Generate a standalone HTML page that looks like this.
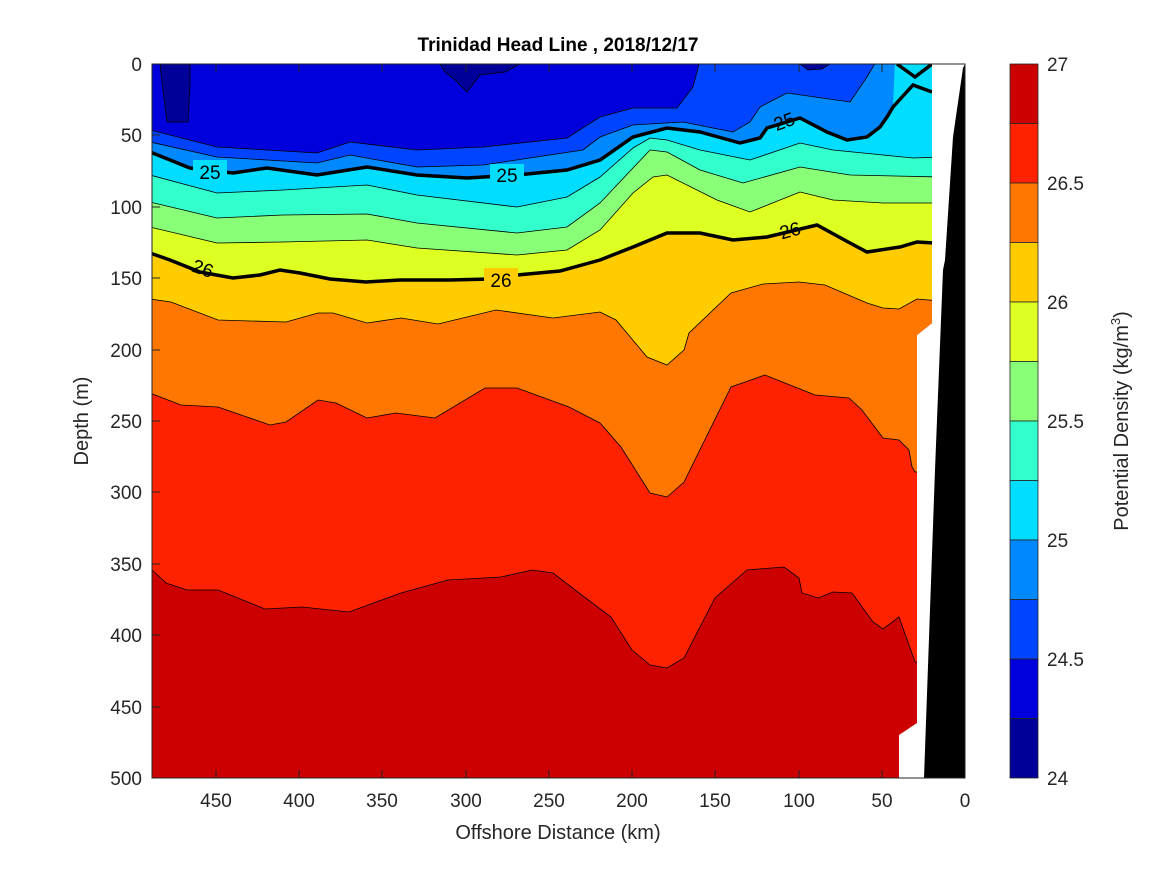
<!DOCTYPE html>
<html><head><meta charset="utf-8"><style>
body{margin:0;background:#fff;}
svg text{font-family:"Liberation Sans","DejaVu Sans",sans-serif;fill:#262626;}
</style></head><body>
<svg width="1167" height="875" viewBox="0 0 1167 875" xmlns="http://www.w3.org/2000/svg">
<defs><clipPath id="dc"><polygon points="152,64 932,64 932,323 917,335 917,723 899,735 899,778 152,778"/></clipPath></defs>
<rect width="1167" height="875" fill="#fff"/>
<g clip-path="url(#dc)" stroke="#000" stroke-width="0.8">
<rect x="152" y="64" width="780" height="714" fill="#cc0000" stroke="none"/>
<polygon fill="#ff2200" points="150,568 166,583 187,590 218,590 265,609 302,607 349,612 401,593 448,580 501,577 532,570 553,573 579,593 611,617 632,650 650,665 667,668 684,658 715,598 747,570 784,567 799,578 802,593 818,598 833,592 852,593 873,622 883,629 899,617 915,662 940,662 940,60 150,60"/>
<polygon fill="#ff7700" points="150,393 181,405 218,407 270,425 286,422 318,400 336,403 367,418 396,413 435,418 485,388 517,388 569,407 600,423 621,447 650,493 667,497 684,482 731,387 765,375 815,395 849,398 862,410 883,438 899,440 909,450 912,467 915,472 940,472 940,60 150,60"/>
<polygon fill="#ffcc00" points="150,299 171,302 218,320 286,322 318,313 333,313 367,323 401,318 438,324 496,310 553,318 600,312 616,320 647,357 667,365 684,350 689,333 731,293 763,284 799,282 825,285 867,303 883,308 899,309 917,299 940,301 940,60 150,60"/>
<polygon fill="#ddff22" points="150,253 170,260 200,272 233,278 260,275 280,270 300,273 330,279 366,282 400,280 450,280 490,279 517,275 560,271 600,260 633,247 667,233 700,233 733,240 767,237 817,225 850,243 867,252 900,247 917,242 940,243 940,60 150,60"/>
<polygon fill="#88ff77" points="150,227 217,243 283,242 367,240 417,248 517,255 567,250 600,230 633,193 653,177 667,175 717,200 750,212 800,192 833,200 883,203 940,203 940,60 150,60"/>
<polygon fill="#33ffcc" points="150,202 217,218 283,215 367,214 417,223 517,233 567,227 600,203 650,150 667,152 700,170 743,183 800,167 850,175 940,177 940,60 150,60"/>
<polygon fill="#00ddff" points="150,175 217,193 283,190 367,185 417,195 517,207 567,197 600,177 633,148 650,138 667,140 700,150 750,160 800,143 833,150 883,155 913,158 940,157 940,60 150,60"/>
<polygon fill="#0088ff" stroke="none" points="150,152 190,168 233,173 267,168 317,175 367,167 417,175 467,178 517,175 567,170 600,160 633,137 667,128 700,132 740,143 760,138 767,128 800,118 827,132 847,140 867,137 880,127 887,117 893,107 895,60 150,60"/>
<polygon fill="#0044ff" points="150,142 217,157 317,163 350,155 417,167 483,165 583,150 600,137 633,125 683,122 733,132 750,122 760,107 787,93 850,102 867,77 877,60 150,60"/>
<polygon fill="#0000dd" points="150,130 217,147 317,153 350,142 417,150 483,147 567,138 600,117 633,108 677,108 693,87 700,60 150,60"/>
<polygon fill="#000099" points="160,64 190,64 190,85 188,122 167,122 163,90"/>
<polygon fill="#000099" points="440,64 520,64 505,72 480,75 467,92 455,80 445,72"/>
<polygon fill="#000099" points="800,64 830,64 822,69 808,70"/>
<polyline fill="none" stroke="#000" stroke-width="3.5" points="150,152 190,168 233,173 267,168 317,175 367,167 417,175 467,178 517,175 567,170 600,160 633,137 667,128 700,132 740,143 760,138 767,128 800,118 827,132 847,140 867,137 880,127 887,117 893,107 913,85 932,92"/>
<polyline fill="none" stroke="#000" stroke-width="3.5" points="897,64 915,77 932,64"/>
<polyline fill="none" stroke="#000" stroke-width="3.5" points="150,253 170,260 200,272 233,278 260,275 280,270 300,273 330,279 366,282 400,280 450,280 490,279 517,275 560,271 600,260 633,247 667,233 700,233 733,240 767,237 817,225 850,243 867,252 900,247 917,242 935,243"/>
</g>
<g font-size="19" fill="#000">
<rect x="193" y="160" width="34" height="22" fill="#00ddff"/>
<text x="210" y="179" text-anchor="middle" style="fill:#000">25</text>
<rect x="490" y="164" width="34" height="22" fill="#00ddff"/>
<text x="507" y="182" text-anchor="middle" style="fill:#000">25</text>
<text x="784" y="128" text-anchor="middle" transform="rotate(-20 784 121)" style="fill:#000">25</text>
<text x="203" y="275" text-anchor="middle" transform="rotate(20 203 268)" style="fill:#000">26</text>
<rect x="484" y="268" width="34" height="22" fill="#ffcc00"/>
<text x="501" y="287" text-anchor="middle" style="fill:#000">26</text>
<text x="790" y="237" text-anchor="middle" transform="rotate(-15 790 230)" style="fill:#000">26</text>
</g>
<polygon fill="#000" points="965,64 963,68 953,137 945,260 943,270 935,470 924,778 965,778"/>
<rect x="152" y="64" width="813" height="714" fill="none" stroke="#262626" stroke-width="1"/>
<g stroke="#262626" stroke-width="1">
<line x1="216" y1="778" x2="216" y2="770"/><line x1="299" y1="778" x2="299" y2="770"/><line x1="382" y1="778" x2="382" y2="770"/><line x1="466" y1="778" x2="466" y2="770"/><line x1="549" y1="778" x2="549" y2="770"/><line x1="632" y1="778" x2="632" y2="770"/><line x1="715" y1="778" x2="715" y2="770"/><line x1="799" y1="778" x2="799" y2="770"/><line x1="882" y1="778" x2="882" y2="770"/>
<line x1="216" y1="64" x2="216" y2="72"/><line x1="299" y1="64" x2="299" y2="72"/><line x1="382" y1="64" x2="382" y2="72"/><line x1="466" y1="64" x2="466" y2="72"/><line x1="549" y1="64" x2="549" y2="72"/><line x1="632" y1="64" x2="632" y2="72"/><line x1="715" y1="64" x2="715" y2="72"/><line x1="799" y1="64" x2="799" y2="72"/><line x1="882" y1="64" x2="882" y2="72"/>
<line x1="152" y1="135" x2="160" y2="135"/><line x1="152" y1="207" x2="160" y2="207"/><line x1="152" y1="278" x2="160" y2="278"/><line x1="152" y1="350" x2="160" y2="350"/><line x1="152" y1="421" x2="160" y2="421"/><line x1="152" y1="492" x2="160" y2="492"/><line x1="152" y1="564" x2="160" y2="564"/><line x1="152" y1="635" x2="160" y2="635"/><line x1="152" y1="707" x2="160" y2="707"/>
</g>
<g font-size="19" text-anchor="end">
<text x="142" y="71">0</text><text x="142" y="142">50</text><text x="142" y="214">100</text><text x="142" y="285">150</text><text x="142" y="357">200</text><text x="142" y="428">250</text><text x="142" y="499">300</text><text x="142" y="571">350</text><text x="142" y="642">400</text><text x="142" y="714">450</text><text x="142" y="785">500</text>
</g>
<g font-size="19" text-anchor="middle">
<text x="216" y="807">450</text><text x="299" y="807">400</text><text x="382" y="807">350</text><text x="466" y="807">300</text><text x="549" y="807">250</text><text x="632" y="807">200</text><text x="715" y="807">150</text><text x="799" y="807">100</text><text x="882" y="807">50</text><text x="965" y="807">0</text>
<text x="558" y="839" font-size="20">Offshore Distance (km)</text>
<text x="558" y="51" font-size="19" font-weight="bold" style="fill:#000">Trinidad Head Line , 2018/12/17</text>
<text transform="translate(88,421) rotate(-90)" font-size="20">Depth (m)</text>
<text transform="translate(1128,421) rotate(-90)" font-size="20">Potential Density (kg/m<tspan font-size="13" dy="-8">3</tspan><tspan dy="8">)</tspan></text>
</g>
<g stroke="#262626" stroke-width="0.8">
<rect x="1010" y="64" width="28" height="59.5" fill="#cc0000"/>
<rect x="1010" y="123.5" width="28" height="59.5" fill="#ff2200"/>
<rect x="1010" y="183" width="28" height="59.5" fill="#ff7700"/>
<rect x="1010" y="242.5" width="28" height="59.5" fill="#ffcc00"/>
<rect x="1010" y="302" width="28" height="59.5" fill="#ddff22"/>
<rect x="1010" y="361.5" width="28" height="59.5" fill="#88ff77"/>
<rect x="1010" y="421" width="28" height="59.5" fill="#33ffcc"/>
<rect x="1010" y="480.5" width="28" height="59.5" fill="#00ddff"/>
<rect x="1010" y="540" width="28" height="59.5" fill="#0088ff"/>
<rect x="1010" y="599.5" width="28" height="59.5" fill="#0044ff"/>
<rect x="1010" y="659" width="28" height="59.5" fill="#0000dd"/>
<rect x="1010" y="718.5" width="28" height="59.5" fill="#000099"/>
</g>
<g font-size="19">
<text x="1047" y="71">27</text><text x="1047" y="190">26.5</text><text x="1047" y="309">26</text><text x="1047" y="428">25.5</text><text x="1047" y="547">25</text><text x="1047" y="666">24.5</text><text x="1047" y="785">24</text>
</g>
</svg>
</body></html>
